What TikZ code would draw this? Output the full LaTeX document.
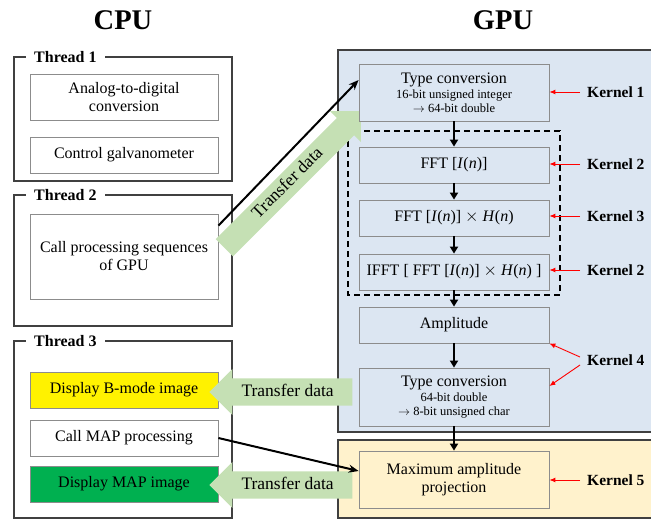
\documentclass[tikz,border=0pt]{standalone}
\usepackage{fontspec}
\setmainfont{Liberation Serif}
\usetikzlibrary{shapes.arrows,arrows.meta}

\definecolor{gpublue}{HTML}{DCE6F2}
\definecolor{mapcream}{HTML}{FFF2CC}
\definecolor{xfergreen}{HTML}{C5E0B4}
\definecolor{mapgreen}{HTML}{00B050}
\definecolor{boxgray}{HTML}{8C8C8C}
\definecolor{framegray}{HTML}{404040}
\definecolor{kernelred}{HTML}{FF0000}

\newcommand{\smalltxt}{\fontsize{12.5}{14}\selectfont}

\tikzset{
  every box/.style={draw=boxgray, line width=0.8pt, align=center, font=\fontsize{16}{18}\selectfont},
  cpu box/.style={every box, fill=white, minimum width=188pt},
  gpu box/.style={every box, fill=gpublue, minimum width=190pt},
  thread frame/.style={draw=framegray, line width=1.4pt, minimum width=218pt},
  thread label/.style={fill=white, inner xsep=8pt, inner ysep=1pt, anchor=west, font=\bfseries\fontsize{16}{18}\selectfont},
  title/.style={font=\bfseries\fontsize{28.5}{32}\selectfont},
  kernel/.style={anchor=west, inner xsep=7pt, font=\bfseries\fontsize{15.5}{18}\selectfont},
  transfer/.style={single arrow, fill=xfergreen, single arrow head extend=9.5pt, anchor=tip,
    inner xsep=0pt, text height=12pt, text depth=4pt, font=\fontsize{17.5}{20}\selectfont},
  flow/.style={-{Triangle[length=7pt,width=8pt]}, line width=2pt},
  call/.style={-{Stealth[length=10pt,width=8pt]}, line width=2pt},
  pointer/.style={-{Latex[length=6pt,width=5pt]}, color=kernelred, line width=0.9pt},
}

\begin{document}
\begin{tikzpicture}[x=1pt, y=-1pt]
\useasboundingbox (0,0) rectangle (651,520);

\node [title] (cpu) at (123,20) {CPU};
\node [title] (gpu) at (503,20) {GPU};

\node [thread frame, minimum height=124pt] (thread-1) at (123,119) {};
\node [thread frame, minimum height=131pt] (thread-2) at (123,260.5) {};
\node [thread frame, minimum height=177pt] (thread-3) at (123,429.5) {};

\foreach \t/\y in {1/57,2/195,3/341}
  \node [thread label] (thread-\t-label) at (26,\y) {Thread \t};

\node [cpu box, minimum height=46pt] (adc) at (124,97) {Analog-to-digital\\conversion};
\node [cpu box, minimum height=36pt] (galvo) at (124,155) {Control galvanometer};
\node [cpu box, minimum height=85pt] (call-gpu) at (124,256.5) {Call processing sequences\\of GPU};
\node [cpu box, minimum height=36pt, fill=yellow] (show-bmode) at (124,390) {Display B-mode image};
\node [cpu box, minimum height=36pt] (call-map) at (124,438) {Call MAP processing};
\node [cpu box, minimum height=36pt, fill=mapgreen] (show-map) at (124,484) {Display MAP image};

\draw [framegray, line width=1.6pt, fill=gpublue] (338,50) rectangle (665,432);
\draw [framegray, line width=1.6pt, fill=mapcream] (338,440) rectangle (665,518);
\draw [dash pattern=on 6pt off 4pt, line width=1.2pt] (348,131) rectangle (560,295);

\node [transfer, rotate=45, minimum height=193pt, inner ysep=4pt] (xfer-up) at (361,111) {Transfer data};
\node [transfer, shape border rotate=180, minimum height=143pt, inner ysep=5.5pt] (xfer-bmode) at (209,392) {Transfer data};
\node [transfer, shape border rotate=180, minimum height=143pt, inner ysep=5.5pt] (xfer-map) at (209,485) {Transfer data};

\node [gpu box, minimum height=57pt] (typeconv-1) at (454,92.5)
  {Type conversion\\[-3pt]{\smalltxt 16-bit unsigned integer}\\[-4pt]{\smalltxt $\rightarrow$ 64-bit double}};
\node [gpu box, minimum height=36pt] (fft) at (454,165) {FFT [\textit{I}(\textit{n})]};
\node [gpu box, minimum height=36pt] (filter) at (454,218) {FFT [\textit{I}(\textit{n})] $\times$ \textit{H}(\textit{n})};
\node [gpu box, minimum height=36pt] (ifft) at (454,272) {IFFT [ FFT [\textit{I}(\textit{n})] $\times$ \textit{H}(\textit{n}) ]};
\node [gpu box, minimum height=36pt] (amplitude) at (454,325) {Amplitude};
\node [gpu box, minimum height=58pt] (typeconv-2) at (454,397)
  {Type conversion\\[-3pt]{\smalltxt 64-bit double}\\[-4pt]{\smalltxt $\rightarrow$ 8-bit unsigned char}};
\node [gpu box, minimum height=57pt, fill=mapcream] (mip) at (454,479.5) {Maximum amplitude\\projection};

\foreach \a/\b in {typeconv-1/fft, fft/filter, filter/ifft, ifft/amplitude, amplitude/typeconv-2, typeconv-2/mip}
  \draw [flow] (\a) -- (\b);

\foreach \n/\y [count=\i] in {1/92,2/164,3/216,2/270,4/360,5/480}
  \node [kernel] (kernel-\i) at (580,\y) {Kernel \n};

\foreach \i/\b in {1/typeconv-1, 2/fft, 3/filter, 4/ifft, 6/mip}
  \draw [pointer] (kernel-\i.west) -- (\b.east |- kernel-\i.west);
\draw [pointer] ([yshift=3pt]kernel-5.west) -- (amplitude.south east);
\draw [pointer] ([yshift=-5pt]kernel-5.west) -- ([yshift=11pt]typeconv-2.east);

\draw [call] ([yshift=-12pt]call-gpu.north east) -- ([yshift=12.5pt]typeconv-1.west);
\draw [call] (call-map.east) -- ([yshift=8.5pt]mip.west);

\end{tikzpicture}
\end{document}
